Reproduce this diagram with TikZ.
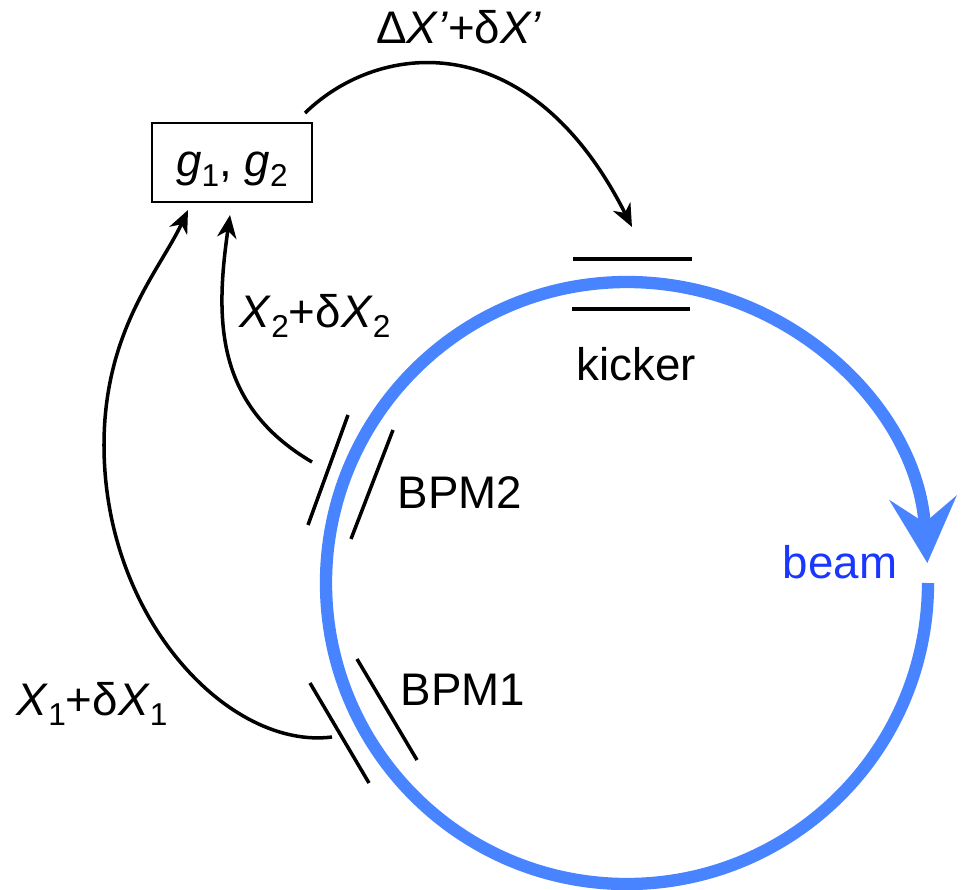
\documentclass[tikz,border=0pt]{standalone}
\usepackage{fontspec}
\setmainfont{Liberation Sans}
\usetikzlibrary{arrows.meta}
\definecolor{ringblue}{RGB}{72,132,255}
\definecolor{labelblue}{RGB}{25,55,255}
\newcommand{\idx}[1]{\raisebox{-0.24em}{\fontsize{18}{20}\selectfont #1}}

\begin{document}
\begin{tikzpicture}[
        x=0.02cm, y=-0.02cm,
        every node/.style={font=\fontsize{26}{31}\selectfont, inner sep=0pt, anchor=base},
        arrow/.style={-{Stealth[length=13pt, width=11pt, inset=4pt]}, line width=2pt},
        plate/.style={line width=2pt},
        ring/.style={ringblue, line width=7pt, -{Stealth[length=37pt, width=38pt, inset=14pt]}}
    ]
    \useasboundingbox (0,0) rectangle (965,890);

    % beam ring
    \coordinate (O) at (627,583);
    \draw[ring] (O) ++(0:301) arc[start angle=0, end angle=356.2, radius=301];

    \node[draw, line width=1.2pt, minimum width=91pt, text height=30pt, text depth=14.7pt] (box) at (232,176) {\textit{g}\idx{1}, \textit{g}\idx{2}};
    \node (kick) at (459,43) {Δ\textit{X’}+δ\textit{X’}};
    \node (kicker) at (636,380) {kicker};
    \node (bpm2) at (460,508) {BPM2};
    \node (bpm1) at (463,705) {BPM1};
    \node[labelblue] (beam) at (840,578) {beam};
    \node (x2) at (315,327) {\textit{X}\idx{2}+δ\textit{X}\idx{2}};
    \node (x1) at (92,715) {\textit{X}\idx{1}+δ\textit{X}\idx{1}};

    \coordinate (G0) at (305,113);
    \coordinate (G1) at (188,210);
    \coordinate (G2) at (230,215);
    \coordinate (K) at (632,227);
    \coordinate (P1) at (332,737);
    \coordinate (P2) at (312,462);

    % kicker and pick-ups
    \draw[plate] (573,259) -- (692,259);
    \draw[plate] (572,309) -- (690,309);
    \draw[plate] (348,415) -- (308,525);
    \draw[plate] (393,430) -- (351,539);
    \draw[plate] (310,683) -- (369,783);
    \draw[plate] (357,659) -- (417,760);

    \draw[arrow] (G0) .. controls (380,40) and (530,25) .. (K);
    \draw[arrow] (P2) .. controls (215,405) and (215,320) .. (G2);
    \draw[arrow] (P1) .. controls (230,750) and (104,620) .. (104,445)
        .. controls (104,330) and (160,270) .. (G1);
\end{tikzpicture}
\end{document}
